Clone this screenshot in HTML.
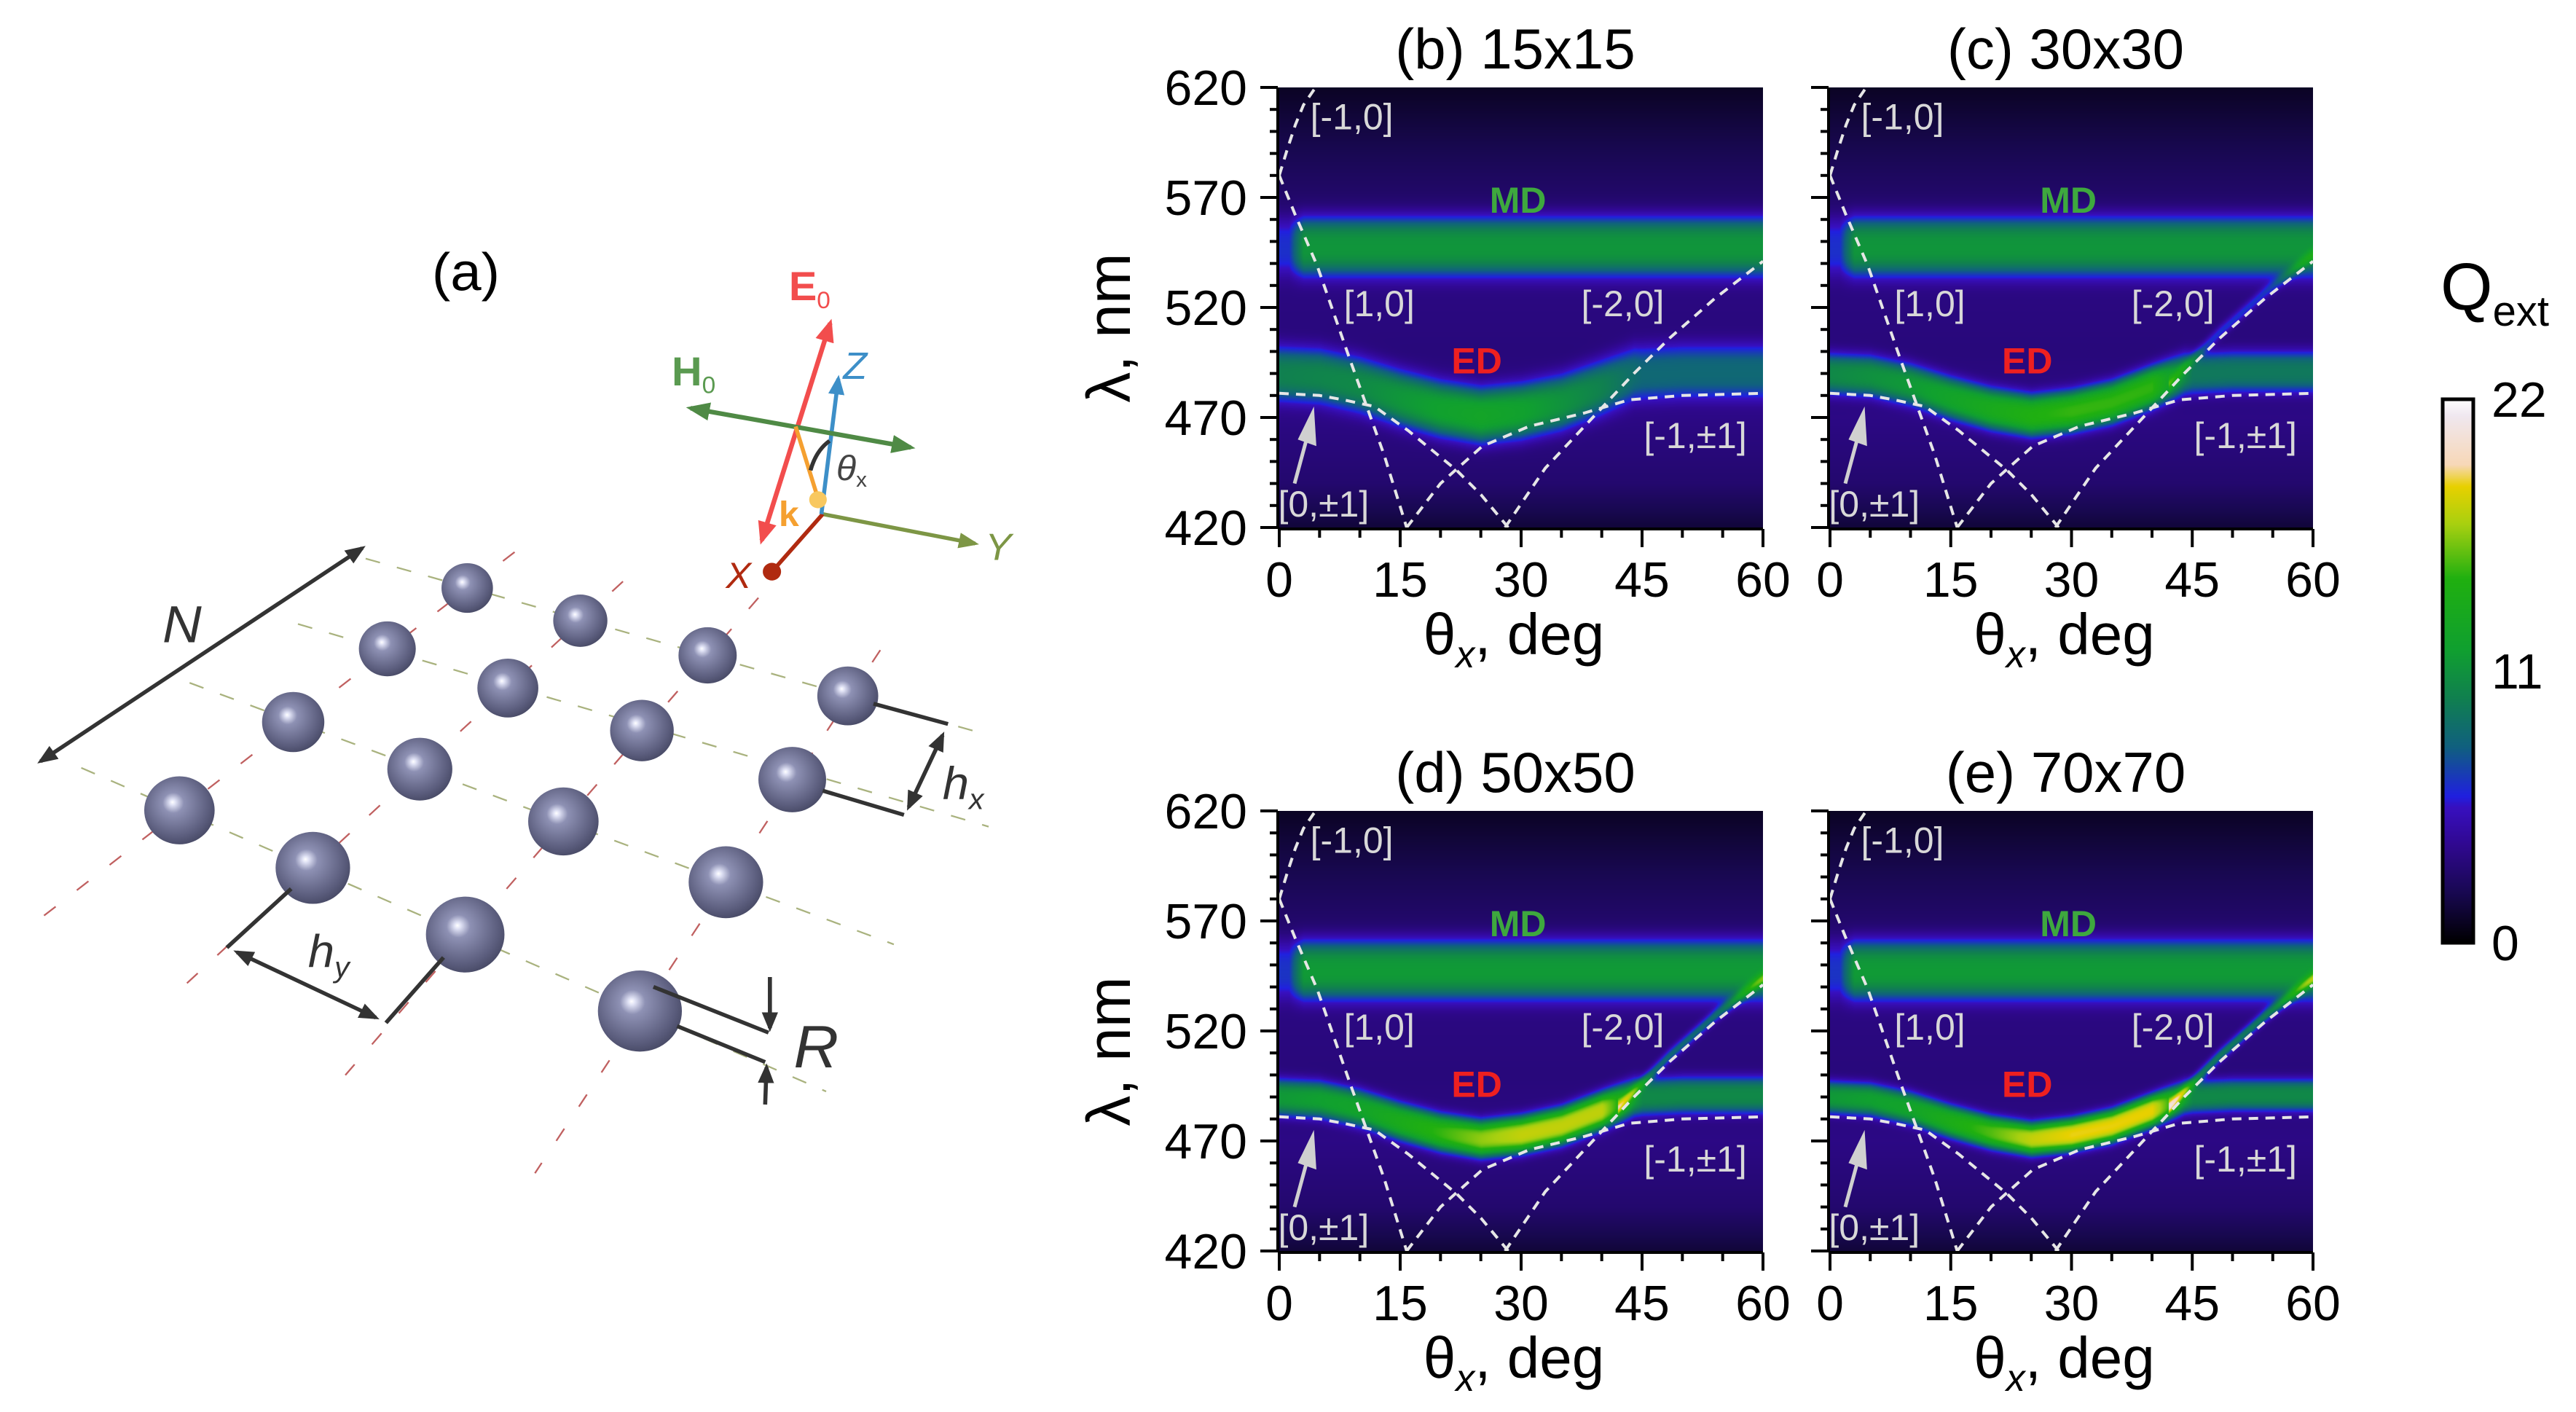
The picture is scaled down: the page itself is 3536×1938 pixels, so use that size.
<!DOCTYPE html>
<html><head><meta charset="utf-8">
<style>
html,body{margin:0;padding:0;background:#fff;}
#root{position:relative;width:3536px;height:1938px;overflow:hidden;background:#fff;font-family:"Liberation Sans",Arial,sans-serif;}
canvas{position:absolute;}
svg{position:absolute;left:0;top:0;}
</style></head>
<body>
<div id="root">
<svg id="schem" style="left:0;top:300px" width="1450" height="1400" viewBox="0 0 1560 1560" preserveAspectRatio="none">
<defs>
<radialGradient id="sph" cx="0.45" cy="0.42" r="0.6" fx="0.4" fy="0.38">
<stop offset="0" stop-color="#ffffff"/><stop offset="0.07" stop-color="#e0e2f5"/><stop offset="0.25" stop-color="#8e91b4"/><stop offset="0.8" stop-color="#5b5d7d"/><stop offset="1" stop-color="#484a66"/></radialGradient>
<marker id="ah" viewBox="0 0 10 10" refX="8" refY="5" markerWidth="5" markerHeight="5" orient="auto-start-reverse"><path d="M0,1 L10,5 L0,9 Z" fill="#333"/></marker>
<marker id="ahg" viewBox="0 0 10 10" refX="8" refY="5" markerWidth="5" markerHeight="5" orient="auto-start-reverse"><path d="M0,1 L10,5 L0,9 Z" fill="#4f8a45"/></marker>
<marker id="ahr" viewBox="0 0 10 10" refX="8" refY="5" markerWidth="5" markerHeight="5" orient="auto-start-reverse"><path d="M0,1 L10,5 L0,9 Z" fill="#f24d4d"/></marker>
<marker id="ahb" viewBox="0 0 10 10" refX="8" refY="5" markerWidth="5" markerHeight="5" orient="auto-start-reverse"><path d="M0,1 L10,5 L0,9 Z" fill="#3d8fc8"/></marker>
<marker id="ahy" viewBox="0 0 10 10" refX="8" refY="5" markerWidth="5" markerHeight="5" orient="auto-start-reverse"><path d="M0,1 L10,5 L0,9 Z" fill="#7d9645"/></marker>
<marker id="ahx" viewBox="0 0 10 10" refX="5" refY="5" markerWidth="5" markerHeight="5" orient="auto"><circle cx="5" cy="5" r="4.5" fill="#b02a10"/></marker>
</defs>
<g stroke="#a9b27e" stroke-width="2.5" stroke-dasharray="22 26">
<line x1="540" y1="520" x2="1460" y2="790"/><line x1="440" y1="620" x2="1460" y2="930"/><line x1="280" y1="710" x2="1320" y2="1110"/><line x1="120" y1="840" x2="1220" y2="1335"/></g>
<g stroke="#c06060" stroke-width="2.5" stroke-dasharray="22 40">
<line x1="760" y1="510" x2="60" y2="1070"/><line x1="920" y1="555" x2="265" y2="1180"/><line x1="1120" y1="580" x2="510" y2="1310"/><line x1="1300" y1="660" x2="790" y2="1460"/></g>
<g fill="url(#sph)">
<circle cx="690" cy="565" r="38"/><circle cx="857" cy="615" r="40"/><circle cx="572" cy="658" r="42"/><circle cx="1045" cy="668" r="43"/><circle cx="750" cy="718" r="45"/><circle cx="1252" cy="730" r="45"/><circle cx="433" cy="770" r="46"/><circle cx="948" cy="783" r="47"/><circle cx="620" cy="842" r="48"/><circle cx="1170" cy="858" r="50"/><circle cx="265" cy="905" r="52"/><circle cx="832" cy="922" r="52"/><circle cx="462" cy="993" r="55"/><circle cx="1072" cy="1015" r="55"/><circle cx="687" cy="1095" r="58"/><circle cx="945" cy="1212" r="62"/></g>
<g stroke="#333" stroke-width="6" fill="none">
<line x1="60" y1="830" x2="535" y2="504" marker-start="url(#ah)" marker-end="url(#ah)"/>
<polyline points="1290,742 1400,773"/><polyline points="1215,875 1335,912"/>
<line x1="1392" y1="790" x2="1342" y2="900" marker-start="url(#ah)" marker-end="url(#ah)"/>
<polyline points="430,1025 335,1115"/><polyline points="655,1130 570,1230"/>
<line x1="350" y1="1122" x2="555" y2="1222" marker-start="url(#ah)" marker-end="url(#ah)"/>
<polyline points="965,1175 1135,1245"/><polyline points="1000,1235 1130,1290"/>
<line x1="1137" y1="1160" x2="1137" y2="1238" marker-end="url(#ah)"/><line x1="1130" y1="1355" x2="1132" y2="1298" marker-end="url(#ah)"/>
</g>
<g font-family="Liberation Sans, sans-serif" fill="#333">
<text x="240" y="648" font-size="80" font-style="italic">N</text>
<text x="1392" y="888" font-size="70" font-style="italic">h<tspan font-size="44" dy="15">x</tspan></text>
<text x="455" y="1145" font-size="70" font-style="italic">h<tspan font-size="44" dy="15">y</tspan></text>
<text x="1172" y="1298" font-size="92" font-style="italic">R</text>
<text x="688" y="110" font-size="82" fill="#000" text-anchor="middle">(a)</text>
</g>
<g fill="none">
<line x1="1215" y1="452" x2="1440" y2="497" stroke="#7d9645" stroke-width="6" marker-end="url(#ahy)"/>
<line x1="1215" y1="452" x2="1140" y2="540" stroke="#b02a10" stroke-width="6" marker-end="url(#ahx)"/>
<line x1="1213" y1="452" x2="1238" y2="245" stroke="#3d8fc8" stroke-width="6" marker-end="url(#ahb)"/>
<line x1="1125" y1="492" x2="1226" y2="160" stroke="#f24d4d" stroke-width="7" marker-start="url(#ahr)" marker-end="url(#ahr)"/>
<line x1="1020" y1="290" x2="1345" y2="350" stroke="#4f8a45" stroke-width="7" marker-start="url(#ahg)" marker-end="url(#ahg)"/>
<line x1="1175" y1="318" x2="1208" y2="428" stroke="#f5a030" stroke-width="6"/>
<circle cx="1208" cy="430" r="13" fill="#f8c860"/>
<path d="M1197,385 Q1205,355 1225,340" stroke="#333" stroke-width="6"/>
</g>
<g font-family="Liberation Sans, sans-serif">
<text x="1165" y="125" font-size="62" font-weight="bold" fill="#f24d4d">E<tspan font-size="36" dy="12" font-weight="normal">0</tspan></text>
<text x="992" y="255" font-size="62" font-weight="bold" fill="#5a9a50">H<tspan font-size="36" dy="12" font-weight="normal">0</tspan></text>
<text x="1245" y="245" font-size="58" font-style="italic" fill="#3d8fc8">Z</text>
<text x="1455" y="522" font-size="58" font-style="italic" fill="#7d9645">Y</text>
<text x="1072" y="565" font-size="56" font-style="italic" fill="#b02a10">X</text>
<text x="1150" y="470" font-size="54" font-weight="bold" fill="#f5a030">k</text>
<text x="1235" y="400" font-size="54" font-style="italic" fill="#444">θ<tspan font-size="32" dy="10" font-style="normal">x</tspan></text>
</g>
</svg>
<svg id="charts" width="3536" height="1938" viewBox="0 0 3536 1938" style="pointer-events:none"></svg>
</div>
<script>
// ---- data ----
const panelNames = ["(b) 15x15","(c) 30x30","(d) 50x50","(e) 70x70"];
const xTicks = [0,15,30,45,60];
const yTicks = [420,470,520,570,620];
const cbTicks = [0,11,22];
// background extinction vs wavelength
const bgLam = [420,440,470,500,530,570,600,620];
const bgVal = [1.4,2.9,3.6,3.3,3.5,2.8,1.7,0.9];
// MD band
const mdCenter = [548,548,548,548];
const mdAmp = [8,8,8.3,8.3];
const mdWidth = [13,13,13,13];
// ED band centre vs angle
const edTheta = [0,5,10,15,20,25,30,35,40,44,50,60];
const edLam = [490,489,485,479,474,471,473,477,484,490,491,491];
// ED amplitude per panel vs angle
const edAmpTheta = [0,10,20,25,30,40,45,50,60];
const edAmpB = [6.5,7,8.5,9,8.5,6.5,5,5,5];
const edAmpC = [7,8,10,11,11.5,11.5,6,6,6];
const edAmpD = [8,9,11.5,13,14,14,7,7,7];
const edAmpE = [8,9,12,14,15,15,7,7,7];
const edWidth = [12,9,8,7];
const raAmp = [0,3,5,6];
// Rayleigh anomaly curves (theta deg, lambda nm)
const raM10Theta = [0,1,2,3,4.5];
const raM10Lam = [580,592,603,612,620];
const ra10Theta = [0,2,4.7,8.7,13,15.8];
const ra10Lam = [580,562,539,497,453,420];
const raM20Theta = [28,33,39.4,44,48.4,54,60];
const raM20Lam = [420,447,472,490,506,524,541];
const ra11Theta = [0,5,8,11.8,16,22,25,28.4];
const ra11Lam = [481,480,478,475,464,446,435,420];
const raM11Theta = [15.8,20,25.2,31,37.8,43.4,50,60];
const raM11Lam = [420,440,457,466,472,478,480,481];

const SVGNS="http://www.w3.org/2000/svg";
const svg=document.getElementById('charts');
const root=document.getElementById('root');
const panels=[{x0:1756,x1:2420,y0:120,y1:724,ylab:true},{x0:2512,x1:3175,y0:120,y1:724,ylab:false},
{x0:1756,x1:2420,y0:1113,y1:1717,ylab:true},{x0:2512,x1:3175,y0:1113,y1:1717,ylab:false}];
const edAmps=[edAmpB,edAmpC,edAmpD,edAmpE];
function interp(xs,ys,x){if(x<=xs[0])return ys[0];for(let i=1;i<xs.length;i++){if(x<=xs[i]){const t=(x-xs[i-1])/(xs[i]-xs[i-1]);return ys[i-1]+t*(ys[i]-ys[i-1]);}}return ys[ys.length-1];}
const cmapPos=[0,0.09,0.18,0.25,0.27,0.36,0.45,0.54,0.67,0.77,0.84,0.88,0.97,1];
const cmapCol=[[0,0,0],[24,8,80],[48,8,144],[56,16,192],[32,32,224],[16,96,128],[16,128,80],[16,160,48],[32,176,16],[168,208,16],[232,208,0],[248,216,184],[240,232,240],[255,255,255]];
function cmap(v){let f=Math.max(0,Math.min(1,v/22));for(let i=1;i<cmapPos.length;i++){if(f<=cmapPos[i]){const t=(f-cmapPos[i-1])/(cmapPos[i]-cmapPos[i-1]);const a=cmapCol[i-1],b=cmapCol[i];return [a[0]+t*(b[0]-a[0]),a[1]+t*(b[1]-a[1]),a[2]+t*(b[2]-a[2])];}}return cmapCol[cmapCol.length-1];}
function el(tag,attrs,parent){const e=document.createElementNS(SVGNS,tag);for(const k in attrs)e.setAttribute(k,attrs[k]);(parent||svg).appendChild(e);return e;}
function txt(str,x,y,size,anchor,extra,parent){const t=el('text',Object.assign({x:x,y:y,'font-size':size,'text-anchor':anchor||'start','font-family':'Liberation Sans, sans-serif'},extra||{}),parent);t.textContent=str;return t;}

panels.forEach((p,pi)=>{
  const W=p.x1-p.x0,H=p.y1-p.y0;
  const sx=t=>p.x0+(t-0)/(60-0)*W;
  const sy=l=>p.y1-(l-420)/(620-420)*H;
  const cv=document.createElement('canvas');
  
  
  cv.width=W;cv.height=H;cv.style.left=p.x0+'px';cv.style.top=p.y0+'px';
  root.insertBefore(cv,svg);
  const ctx=cv.getContext('2d');const img=ctx.createImageData(W,H);
  for(let i=0;i<W;i++){
    const th=i/W*60;
    const ec=interp(edTheta,edLam,th),ea=interp(edAmpTheta,edAmps[pi],th);
    const mdFade=Math.min(1,Math.max(0.4,th/3));
    const rc=interp(raM20Theta,raM20Lam,th);
    for(let j=0;j<H;j++){
      const lam=620-j/H*200;
      let v=interp(bgLam,bgVal,lam);
      const dm=(lam-mdCenter[pi])/mdWidth[pi];
      v+=mdAmp[pi]*mdFade*Math.exp(-dm*dm*Math.abs(dm)*0.9);
      const de=(lam-ec)/edWidth[pi];
      v+=ea*Math.exp(-de*de*Math.abs(de)*0.9);
      if(th>42&&raAmp[pi]>0){const dr=(lam-rc-3)/3;v+=raAmp[pi]*Math.exp(-dr*dr);}
      const c=cmap(v);const k=(j*W+i)*4;img.data[k]=c[0];img.data[k+1]=c[1];img.data[k+2]=c[2];img.data[k+3]=255;
    }
  }
  ctx.putImageData(img,0,0);
  const g=el('g',{});
  
  
  [[raM10Theta,raM10Lam],[ra10Theta,ra10Lam],[raM20Theta,raM20Lam],[ra11Theta,ra11Lam],[raM11Theta,raM11Lam]].forEach((c,ci)=>{
    const pts=c[0].map((t,k)=>sx(t).toFixed(1)+','+sy(c[1][k]).toFixed(1)).join(' ');
    const pl=el('polyline',{points:pts,fill:'none',stroke:'#e6e6e6','stroke-width':4,'stroke-dasharray':'13 10'},g);
    
    
  });
  const lab=(s,t,l,size,col,bold,name)=>{const e=txt(s,sx(t),sy(l)+size*0.36,size,'middle',{fill:col,'font-weight':bold?'bold':'normal'},g);};
  lab('[-1,0]',9,607,50,'#d8d8d8',false,'label-m1-0');
  lab('[1,0]',12.4,522,50,'#d8d8d8',false,'label-1-0');
  lab('[-2,0]',42.6,522,50,'#d8d8d8',false,'label-m2-0');
  lab('[-1,±1]',51.6,462,50,'#d8d8d8',false,'label-m1-pm1');
  lab('[0,±1]',5.5,431,50,'#d8d8d8',false,'label-0-pm1');
  lab('MD',29.6,569,50,'#3ea83e',true,'label-md');
  lab('ED',24.5,496,50,'#ee2020',true,'label-ed');
  const ar=el('line',{x1:sx(1.9),y1:sy(440),x2:sx(3.6),y2:sy(463),stroke:'#d0d0d0','stroke-width':5},g);
  
  
  const ah=el('polygon',{points:`${sx(4.3)},${sy(475)} ${sx(2.3)},${sy(460)} ${sx(4.6)},${sy(457)}`,fill:'#d0d0d0'},g);
  
  
  el('line',{x1:p.x0-2,y1:p.y0,x2:p.x0-2,y2:p.y1+2,stroke:'#000','stroke-width':4},g);
  el('line',{x1:p.x0-2,y1:p.y1+2,x2:p.x1,y2:p.y1+2,stroke:'#000','stroke-width':4},g);
  for(let l=420;l<=620;l+=10){const major=yTicks.includes(l);el('line',{x1:p.x0-2,y1:sy(l),x2:p.x0-2-(major?24:11),y2:sy(l),stroke:'#000','stroke-width':4},g);}
  for(let t=0;t<=60;t+=5){const major=xTicks.includes(t);el('line',{x1:sx(t),y1:p.y1+2,x2:sx(t),y2:p.y1+2+(major?25:12),stroke:'#000','stroke-width':4},g);}
  xTicks.forEach(t=>{const e=txt(String(t),sx(t),p.y1+95,68,'middle',{},g);});
  if(p.ylab){yTicks.forEach(l=>{const e=txt(String(l),p.x0-44,sy(l)+24,68,'end',{},g);});
    const yt=txt('λ, nm',0,0,84,'middle',{transform:`translate(${p.x0-205},${(p.y0+p.y1)/2+28}) rotate(-90)`},g);
    
    }
  const xt=txt('',(p.x0+p.x1)/2-10,p.y1+174,80,'middle',{},g);
  
  
  xt.innerHTML='θ<tspan font-style="italic" font-size="52" dy="18">x</tspan><tspan dy="-18">, deg</tspan>';
  const ti=txt(panelNames[pi],(p.x0+p.x1)/2-8,p.y0-26,78,'middle',{},g);
  
  
});
(function(){
  const x0=3353,x1=3395,y0=548,y1=1294;
  const cv=document.createElement('canvas');
  
  
  cv.width=x1-x0;cv.height=y1-y0;cv.style.left=x0+'px';cv.style.top=y0+'px';
  root.insertBefore(cv,svg);
  const ctx=cv.getContext('2d');
  for(let j=0;j<y1-y0;j++){const c=cmap(22*(1-j/(y1-y0)));ctx.fillStyle=`rgb(${c[0]|0},${c[1]|0},${c[2]|0})`;ctx.fillRect(0,j,x1-x0,1);}
  const fr=el('rect',{x:x0,y:y0,width:x1-x0,height:y1-y0,fill:'none',stroke:'#000','stroke-width':5});
  
  
  const cy=v=>y1-(v/22)*(y1-y0);
  cbTicks.forEach(v=>{const e=txt(String(v),3420,cy(v)+24,68,'start');});
  const q=txt('',3350,425,92,'start');
  
  
  q.innerHTML='Q<tspan font-size="58" dy="22">ext</tspan>';
})();
</script>
</body></html>
